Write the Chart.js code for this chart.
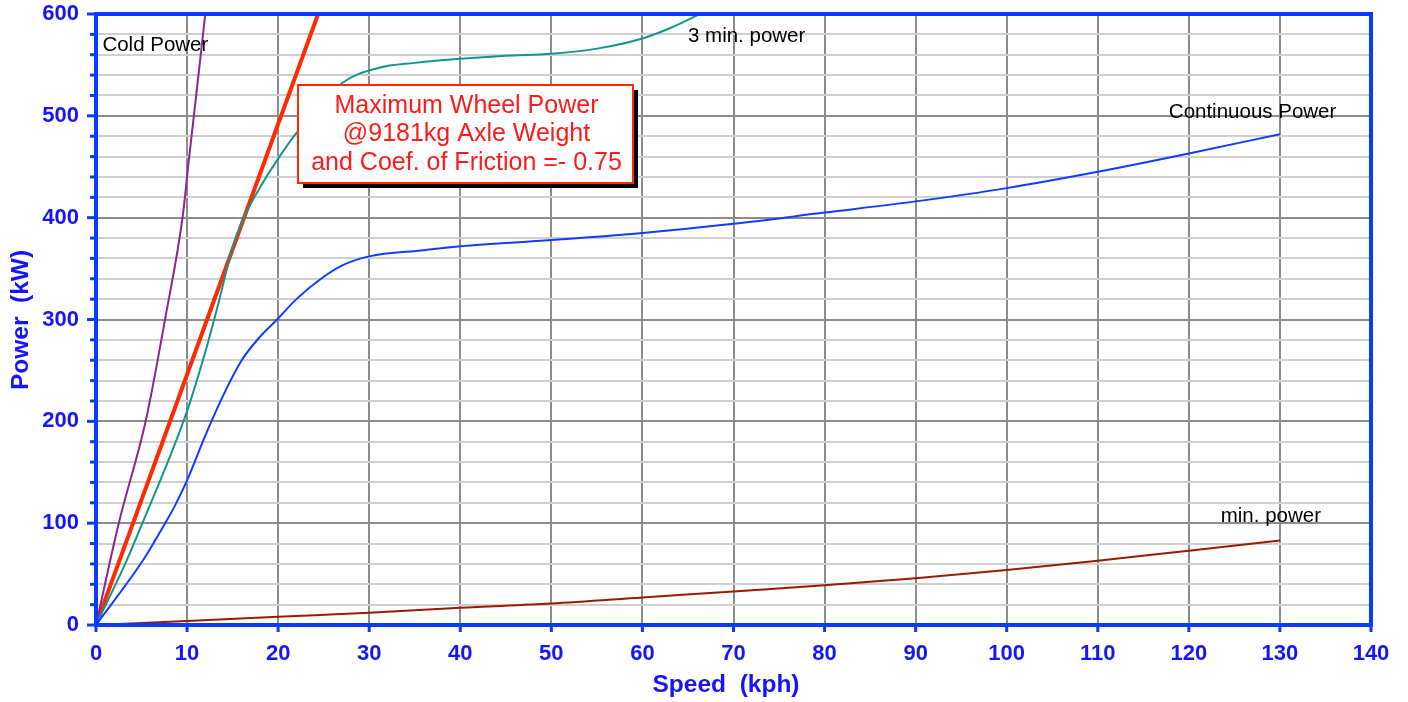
<!DOCTYPE html>
<html>
<head>
<meta charset="utf-8">
<script src="https://cdn.jsdelivr.net/npm/chart.js@4.4.1/dist/chart.umd.min.js"></script>
<style>
  html, body { margin: 0; padding: 0; background: #fff; }
  #wrap { width: 1408px; height: 702px; }
</style>
</head>
<body>
<div id="wrap"><canvas id="powerChart" width="1408" height="702"></canvas></div>
<script>
// speed (kph) / power (kW)
const coldSpeed = [0, 2.5, 5.45, 7.6, 9.5, 10.2, 11, 12, 12.3];
const coldPower = [0, 100, 200, 301, 400, 457, 520, 600, 625];

const maxWheelSpeed = [0, 25];
const maxWheelPower = [0, 615];

const threeMinSpeed = [0, 3.4, 5, 8.5, 10, 12, 13.5, 15, 16.5, 18.3, 20, 22, 25, 27, 31, 35, 40, 45, 50, 55, 60, 63, 67];
const threeMinPower = [0, 64, 98, 174, 210, 268, 318, 371, 405, 434, 458, 483, 512, 532, 547, 552, 556, 559, 561, 566, 576, 586, 603];

const contSpeed = [0, 5.2, 7.6, 8.6, 10, 12, 14, 16, 18, 20, 22, 25, 27, 30, 36, 40, 50, 60, 70, 80, 90, 100, 110, 120, 130];
const contPower = [0, 64, 100, 116, 142, 186, 226, 260, 283, 301, 320, 342, 353, 362, 368, 372, 378, 385, 394, 405, 416, 429, 445, 463, 482];

const minSpeed = [0, 10, 20, 30, 40, 50, 60, 70, 80, 90, 100, 110, 120, 130];
const minPower = [0, 4, 8, 12, 17, 21, 27, 33, 39, 46, 54, 63, 73, 83];

const xTicks = [0, 10, 20, 30, 40, 50, 60, 70, 80, 90, 100, 110, 120, 130, 140];
const yTicks = [0, 100, 200, 300, 400, 500, 600];

const curveLabels = [
  { text: 'Cold Power', x: 0.7, y: 569 },
  { text: '3 min. power', x: 65, y: 578 },
  { text: 'Continuous Power', x: 117.8, y: 503 },
  { text: 'min. power', x: 123.5, y: 107 }
];
const noteLines = ['Maximum Wheel Power', '@9181kg Axle Weight', 'and Coef. of Friction =- 0.75'];

const AXIS_BLUE = '#0a3cff';
const TEXT_BLUE = '#1414ff';
const FONT = '"Liberation Sans", Arial, sans-serif';

const pts = (xs, ys) => xs.map((x, i) => ({ x: x, y: ys[i] }));

const decorations = {
  id: 'decorations',
  afterDraw(chart) {
    const ctx = chart.ctx;
    const area = chart.chartArea;
    const xs = chart.scales.x, ys = chart.scales.y;
    ctx.save();

    // tick marks
    ctx.strokeStyle = AXIS_BLUE;
    ctx.lineWidth = 3;
    for (let v = 0; v <= 600; v += 20) {
      const py = ys.getPixelForValue(v);
      const len = v % 100 === 0 ? 9 : 6;
      ctx.beginPath();
      ctx.moveTo(area.left - len, py);
      ctx.lineTo(area.left, py);
      ctx.stroke();
    }
    xTicks.forEach(v => {
      const px = xs.getPixelForValue(v);
      ctx.beginPath();
      ctx.moveTo(px, area.bottom);
      ctx.lineTo(px, area.bottom + 7);
      ctx.stroke();
    });

    // plot border
    ctx.lineWidth = 4;
    ctx.strokeRect(area.left, area.top, area.right - area.left, area.bottom - area.top);

    // axis titles
    ctx.fillStyle = TEXT_BLUE;
    ctx.font = 'bold 24.5px ' + FONT;
    ctx.textAlign = 'center';
    ctx.textBaseline = 'middle';
    ctx.fillText('Speed  (kph)', 726, 685);
    ctx.save();
    ctx.translate(21, 320);
    ctx.rotate(-Math.PI / 2);
    ctx.fillText('Power  (kW)', 0, 0);
    ctx.restore();

    // curve labels
    ctx.fillStyle = '#000';
    ctx.font = '20.5px ' + FONT;
    ctx.textAlign = 'left';
    curveLabels.forEach(l => {
      ctx.fillText(l.text, xs.getPixelForValue(l.x), ys.getPixelForValue(l.y));
    });

    // annotation box
    const bx = 298, by = 85, bw = 335, bh = 98;
    ctx.fillStyle = '#000';
    ctx.fillRect(bx + 5, by + 5, bw, bh);
    ctx.fillStyle = '#fff';
    ctx.fillRect(bx, by, bw, bh);
    ctx.strokeStyle = '#ff2a00';
    ctx.lineWidth = 2;
    ctx.strokeRect(bx, by, bw, bh);
    ctx.fillStyle = '#ff1a1a';
    ctx.font = '25px ' + FONT;
    ctx.textAlign = 'center';
    noteLines.forEach((t, i) => ctx.fillText(t, bx + bw / 2 + 1, by + 21 + i * 28.5));

    ctx.restore();
  }
};

const lineSet = (label, data, color, width) => ({
  label: label,
  data: data,
  borderColor: color,
  borderWidth: width,
  pointRadius: 0,
  fill: false,
  cubicInterpolationMode: 'monotone'
});

new Chart(document.getElementById('powerChart').getContext('2d'), {
  type: 'line',
  data: {
    datasets: [
      lineSet('min. power', pts(minSpeed, minPower), '#991a00', 2),
      lineSet('Continuous Power', pts(contSpeed, contPower), '#0f3cff', 2),
      lineSet('3 min. power', pts(threeMinSpeed, threeMinPower), '#10958f', 2),
      lineSet('Cold Power', pts(coldSpeed, coldPower), '#8e2491', 2),
      lineSet('Maximum Wheel Power', pts(maxWheelSpeed, maxWheelPower), '#ff2a00', 4)
    ]
  },
  options: {
    responsive: false,
    animation: false,
    layout: { padding: { top: 14, right: 37, left: 0, bottom: 0 } },
    plugins: { legend: { display: false }, tooltip: { enabled: false } },
    scales: {
      x: {
        type: 'linear',
        min: 0, max: 140,
        afterFit: s => { s.height = 77; s.paddingLeft = 0; s.paddingRight = 0; },
        afterBuildTicks: s => { s.ticks = xTicks.map(v => ({ value: v })); },
        grid: { color: '#8c8c8c', lineWidth: 2, drawTicks: false },
        border: { display: false },
        ticks: {
          color: TEXT_BLUE, padding: 16, autoSkip: false, maxRotation: 0,
          font: { family: FONT, size: 22, weight: 'bold' }
        }
      },
      y: {
        min: 0, max: 600,
        afterFit: s => { s.width = 96; s.paddingTop = 0; s.paddingBottom = 0; },
        afterBuildTicks: s => {
          const t = [];
          for (let v = 0; v <= 600; v += 20) t.push({ value: v });
          s.ticks = t;
        },
        ticks: {
          color: TEXT_BLUE, padding: 17, autoSkip: false,
          font: { family: FONT, size: 22, weight: 'bold' },
          callback: v => (yTicks.includes(v) ? String(v) : '')
        },
        grid: {
          drawTicks: false, lineWidth: 2,
          color: c => (c.tick && c.tick.value % 100 === 0 ? '#8c8c8c' : '#cfcfcf')
        },
        border: { display: false }
      }
    }
  },
  plugins: [decorations]
});
</script>
</body>
</html>
